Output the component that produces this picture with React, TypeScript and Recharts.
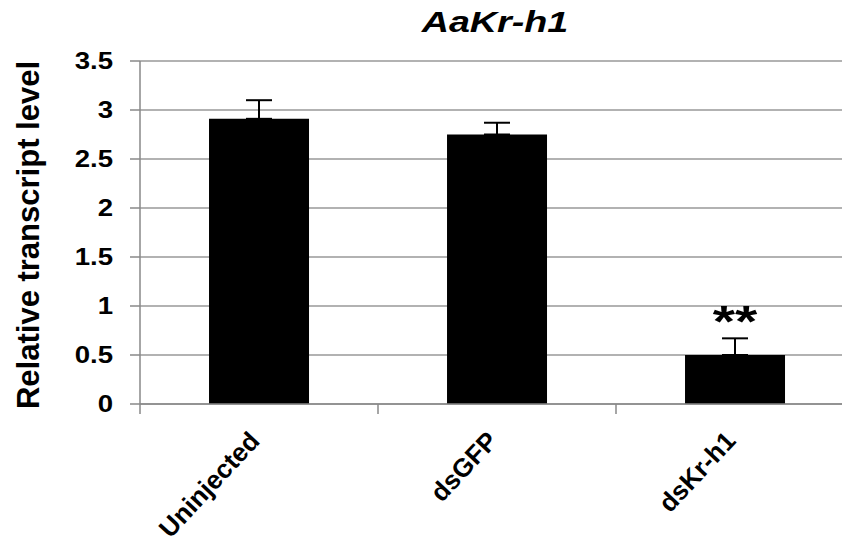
import React from "react";
import {
  BarChart,
  Bar,
  XAxis,
  YAxis,
  CartesianGrid,
  ErrorBar,
  LabelList,
} from "recharts";

const groups = ["Uninjected", "dsGFP", "dsKr-h1"];
const levels = [2.91, 2.75, 0.5];
const errors = [0.19, 0.12, 0.17];
const marks = ["", "", "**"];
const yTicks = [0, 0.5, 1, 1.5, 2, 2.5, 3, 3.5];

const data = groups.map((g, i) => ({
  name: g,
  value: levels[i],
  err: [0, errors[i]],
  sig: marks[i],
}));

const W = 860;
const H = 546;
const M = { top: 61, right: 6, bottom: 141, left: 0 };
const Y_W = 140;
const BAND = (W - M.left - M.right - Y_W) / groups.length;
const FONT = "'Liberation Sans', Arial, sans-serif";
// the original figure is stretched sideways, so text gets a horizontal scale
const SX = 1.3;

function CatTick(props: any) {
  const { x, y, payload } = props;
  const left = x - BAND / 2;
  return (
    <g>
      <line x1={left} y1={y} x2={left} y2={y + 10} stroke="#888" strokeWidth={1.5} />
      <text
        transform={`translate(${x + 2} ${y + 38}) rotate(-47)`}
        textAnchor="end"
        fontFamily={FONT}
        fontWeight="bold"
        fontSize={26}
        fill="#000"
      >
        {payload.value}
      </text>
    </g>
  );
}

function ValTick(props: any) {
  const { x, y, payload } = props;
  return (
    <text
      transform={`translate(${x - 17} ${y}) scale(1.2 1)`}
      textAnchor="end"
      dy="0.36em"
      fontFamily={FONT}
      fontWeight="bold"
      fontSize={23}
      fill="#000"
    >
      {payload.value}
    </text>
  );
}

function SigLabel(props: any) {
  const { x, y, width, value } = props;
  if (!value) return null;
  return (
    <text
      transform={`translate(${x + width / 2} ${y - 18}) scale(${SX} 1)`}
      textAnchor="middle"
      fontFamily={FONT}
      fontWeight="bold"
      fontSize={44}
      fill="#000"
    >
      {value}
    </text>
  );
}

export default function App() {
  return (
    <div
      style={{
        position: "fixed",
        left: 0,
        top: 0,
        width: 842,
        height: H,
        overflow: "hidden",
        background: "#fff",
      }}
    >
      <div
        style={{
          position: "absolute",
          left: 495,
          top: 22,
          transform: `translate(-50%, -50%) scaleX(${SX})`,
          whiteSpace: "nowrap",
          fontFamily: FONT,
          fontWeight: "bold",
          fontStyle: "italic",
          fontSize: 29,
        }}
      >
        AaKr-h1
      </div>
      <div
        style={{
          position: "absolute",
          left: 29,
          top: 235,
          transform: "translate(-50%, -50%) rotate(-90deg)",
          whiteSpace: "nowrap",
          fontFamily: FONT,
          fontWeight: "bold",
          fontSize: 31,
        }}
      >
        Relative transcript level
      </div>
      <div style={{ position: "absolute", left: 0, top: 0, width: W, height: H }}>
        <BarChart width={W} height={H} data={data} margin={M} barCategoryGap="29%">
          <CartesianGrid vertical={false} stroke="#999" strokeWidth={1.5} />
          <XAxis
            dataKey="name"
            height={1}
            axisLine={{ stroke: "#888", strokeWidth: 1.5 }}
            tickLine={false}
            tickSize={0}
            tickMargin={0}
            tick={<CatTick />}
            interval={0}
          />
          <YAxis
            domain={[0, 3.5]}
            ticks={yTicks}
            width={Y_W}
            axisLine={{ stroke: "#888", strokeWidth: 1.5 }}
            tickLine={{ stroke: "#888", strokeWidth: 1.5 }}
            tickSize={10}
            tickMargin={0}
            tick={<ValTick />}
          />
          <Bar dataKey="value" fill="#000" isAnimationActive={false}>
            <ErrorBar dataKey="err" width={13} stroke="#000" strokeWidth={2} />
            <LabelList dataKey="sig" content={<SigLabel />} />
          </Bar>
        </BarChart>
      </div>
    </div>
  );
}
